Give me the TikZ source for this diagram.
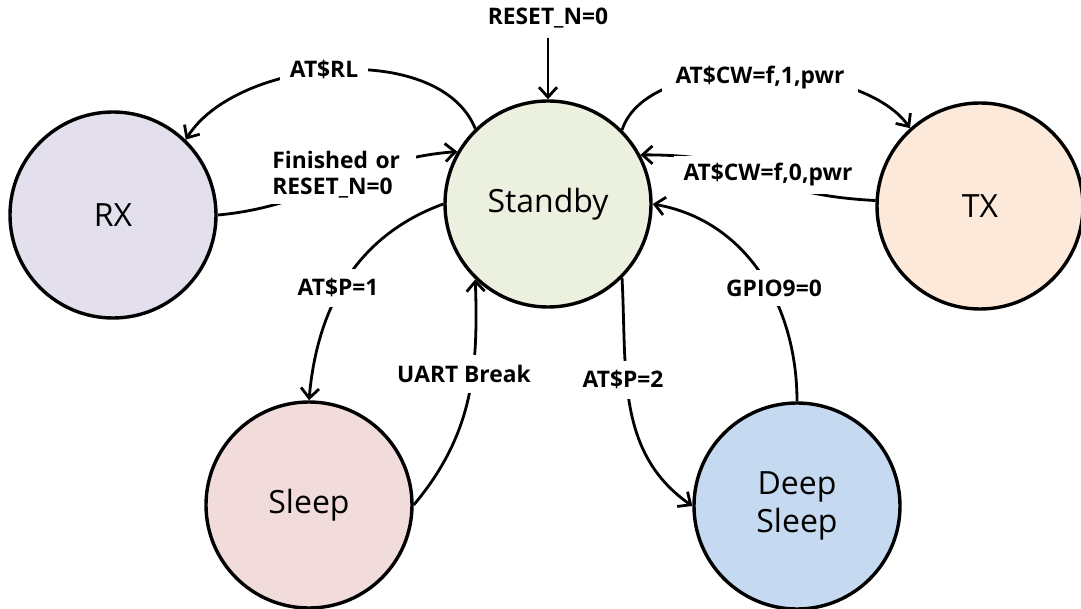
\documentclass[tikz,border=0pt]{standalone}
\usepackage{fontspec}
\setmainfont{Open Sans}
\usetikzlibrary{arrows.meta}
\definecolor{cstandby}{HTML}{EBF1DE}
\definecolor{crx}{HTML}{E4DFEC}
\definecolor{ctx}{HTML}{FDE9D9}
\definecolor{csleep}{HTML}{F2DCDB}
\definecolor{cdeep}{HTML}{C5D9F1}
\begin{document}
\begin{tikzpicture}[x=0.5pt,y=0.5pt,
  state/.style={circle, draw=black, line width=1.7pt, minimum size=103pt, inner sep=0pt,
    font=\fontsize{16}{19}\selectfont, align=center},
  lbl/.style={font=\bfseries\fontsize{11.4}{13}\selectfont, fill=white, inner sep=5pt, align=center},
  conn/.style={line width=1.4pt, -{Straight Barb[length=5pt,width=9pt]}}]
\useasboundingbox[fill=white] (0,0) rectangle (1081,-609);

\node[state, fill=cstandby] (standby) at (548,-204) {Standby};
\node[state, fill=crx] (rx) at (113,-215) {RX};
\node[state, fill=ctx] (tx) at (980,-206) {TX};
\node[state, fill=csleep] (sleep) at (309,-505) {Sleep};
\node[state, fill=cdeep] (deep) at (797,-506) {Deep\\Sleep};

% initial
\coordinate (rs) at (548,-36);
\draw[conn] (rs) -- (standby.north);
\node[lbl] (lrs) at (548,-18) {RESET\_N=0};

% AT$RL
\draw[conn] (standby.134) to[out=112, in=58, looseness=0.85] (rx.46);
\node[lbl] (lrl) at (324,-70) {AT\$RL};

% Finished or RESET_N=0
\draw[conn] (rx.0) to[out=5, in=184] (standby.150);
\node[lbl, align=left, text width=71pt, inner xsep=1pt, inner ysep=3pt, anchor=west] (lfin) at (270,-175) {Finished or\\RESET\_N=0};

% AT$CW=f,1,pwr
\draw[conn] (standby.45) to[out=72, in=125, looseness=0.75] (tx.132);
\node[lbl, inner xsep=7pt] (lcw1) at (760,-78) {AT\$CW=f,1,pwr};

% AT$CW=f,0,pwr
\draw[conn] (tx.177) to[out=177, in=0, looseness=1.4] (standby.28);
\node[lbl, inner ysep=4pt] (lcw0) at (768,-175) {AT\$CW=f,0,pwr};

% GPIO9=0
\draw[conn] (deep.north) to[out=90, in=-10] (standby.east);
\node[lbl] (lgp) at (774,-288) {GPIO9=0};

% AT$P=2
\draw[conn] (standby.-45) to[out=-87, in=145] (deep.west);
\node[lbl] (lp2) at (623,-380) {AT\$P=2};

% AT$P=1
\draw[conn] (standby.west) to[out=200, in=85] (sleep.north);
\node[lbl] (lp1) at (338,-288) {AT\$P=1};

% UART Break
\draw[conn] (sleep.east) to[out=50, in=-88] (standby.-134);
\node[lbl] (lub) at (464,-374) {UART Break};
\end{tikzpicture}
\end{document}
